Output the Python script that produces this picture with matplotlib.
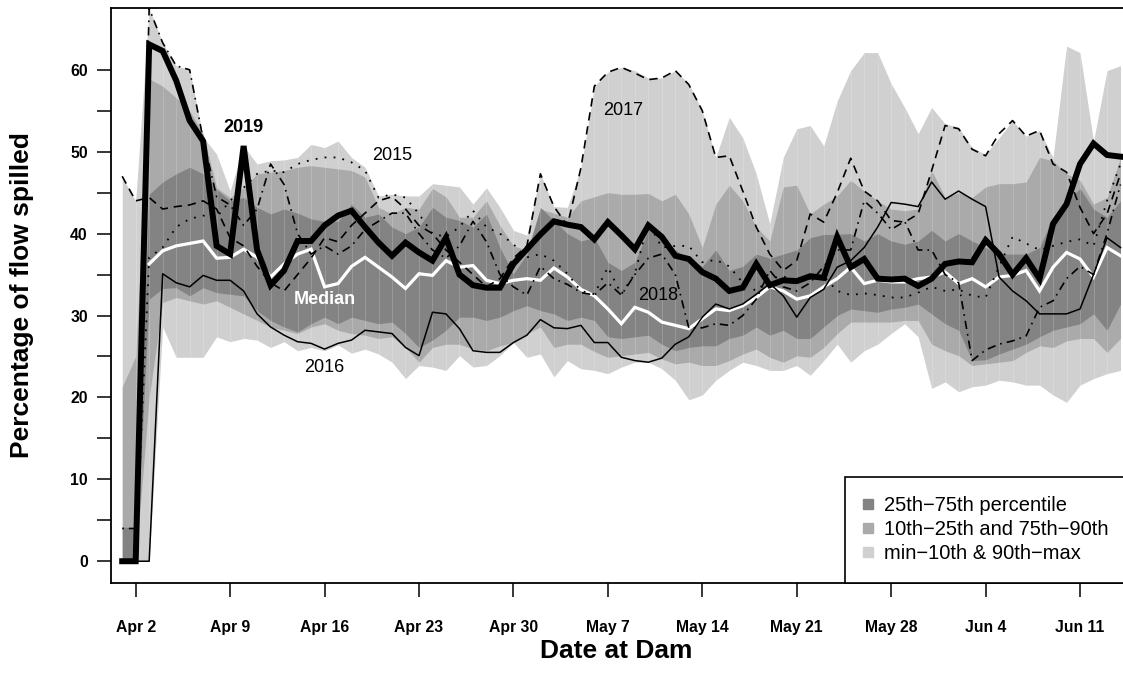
import numpy as np
import matplotlib
matplotlib.use("Agg")
import matplotlib.pyplot as plt
from matplotlib.lines import Line2D

plt.rcParams['font.family'] = ['Liberation Sans', 'DejaVu Sans']

# Daily dates at the dam, Apr 1 - Jun 14
dates = np.arange('2019-04-01', '2019-06-15', dtype='datetime64[D]')
day = (dates - dates[0]).astype(int)

tick_labels = ["Apr 2", "Apr 9", "Apr 16", "Apr 23", "Apr 30", "May 7",
               "May 14", "May 21", "May 28", "Jun 4", "Jun 11"]
tick_dates = np.array(['2019-04-02', '2019-04-09', '2019-04-16', '2019-04-23',
                       '2019-04-30', '2019-05-07', '2019-05-14', '2019-05-21',
                       '2019-05-28', '2019-06-04', '2019-06-11'], dtype='datetime64[D]')

# Percentile envelope of historical percentage of flow spilled
q_min = [0, 0, 0, 28.6, 24.9, 24.9, 24.9, 27.4, 26.8, 27.2, 27.0, 26.1, 26.8, 25.7, 26.1,
         25.7, 26.4, 25.4, 25.9, 25.3, 24.3, 22.3, 23.9, 23.7, 23.3, 25.1, 23.7, 23.9, 25.1,
         26.7, 24.9, 25.3, 22.5, 24.5, 23.5, 23.3, 22.9, 23.7, 24.3, 24.3, 23.5, 22.1, 19.7,
         20.3, 22.1, 23.3, 24.3, 23.9, 23.3, 23.3, 23.9, 22.7, 24.5, 26.5, 24.3, 25.7, 26.5,
         27.8, 29.0, 27.4, 21.1, 21.9, 20.7, 21.3, 21.5, 22.1, 21.9, 21.5, 21.5, 20.3, 19.4,
         21.5, 22.3, 22.9, 23.3]
q10 = [0, 0, 20, 31.6, 32.2, 31.8, 31.4, 31.8, 31.0, 30.2, 29.4, 28.6, 28.2, 27.8, 28.6,
       29.0, 28.2, 27.8, 27.6, 27.2, 27.4, 26.1, 24.3, 26.1, 26.5, 26.5, 25.9, 25.7, 26.3,
       26.7, 27.8, 28.6, 26.1, 26.5, 26.5, 25.6, 24.9, 25.1, 25.3, 25.5, 24.7, 24.1, 24.3,
       23.9, 23.9, 24.5, 25.3, 25.9, 24.9, 24.3, 25.1, 24.9, 26.1, 27.8, 29.2, 29.2, 29.2,
       29.2, 29.4, 29.4, 26.5, 25.7, 25.1, 23.9, 24.1, 24.3, 24.5, 25.5, 26.3, 26.1, 26.9,
       27.2, 27.2, 25.5, 27.2]
q25 = [0, 0, 32, 33.3, 33.4, 32.4, 33.4, 32.8, 32.6, 32.4, 30.6, 29.4, 28.6, 28.0, 29.0,
       29.8, 29.0, 29.8, 29.4, 29.0, 29.2, 27.8, 26.1, 27.0, 28.2, 29.8, 29.8, 29.4, 29.8,
       30.6, 31.2, 30.6, 30.2, 29.4, 29.8, 29.4, 27.4, 27.2, 27.4, 27.6, 26.5, 25.7, 26.1,
       26.3, 26.3, 27.2, 27.6, 28.6, 27.6, 28.2, 27.2, 27.2, 28.6, 30.0, 30.8, 30.6, 30.4,
       30.8, 31.0, 31.4, 30.2, 29.0, 28.2, 24.5, 24.6, 25.3, 25.9, 26.5, 27.4, 28.2, 28.6,
       29.0, 30.2, 28.2, 31.4]
q75 = [4.2, 4.0, 44.8, 46.3, 47.3, 48.1, 47.3, 45.4, 44.0, 44.4, 43.2, 42.4, 43.0, 42.5, 41.8,
       41.5, 41.5, 43.6, 42.0, 42.4, 40.8, 40.0, 40.8, 43.2, 42.0, 41.6, 40.8, 42.4, 38.3,
       35.1, 37.5, 43.2, 41.6, 40.0, 39.1, 39.5, 36.5, 35.5, 36.5, 40.5, 39.5, 38.0, 37.0,
       36.0, 38.0, 35.5, 36.0, 37.5, 37.0, 37.5, 38.0, 39.5, 39.9, 39.9, 40.0, 39.1, 40.0,
       39.1, 38.7, 39.1, 40.4, 39.1, 40.0, 39.1, 38.3, 37.5, 37.5, 37.5, 38.3, 42.0, 44.0,
       45.5, 43.0, 42.0, 44.0]
q90 = [21.3, 25.0, 58.9, 58.0, 56.6, 55.0, 52.2, 45.6, 44.4, 45.6, 47.3, 47.5, 47.7, 48.1, 48.3,
       48.1, 47.9, 47.7, 46.9, 43.2, 42.4, 43.2, 43.0, 45.5, 44.5, 42.0, 42.0, 44.0, 41.0,
       38.5, 38.0, 43.0, 42.5, 42.0, 44.0, 44.5, 45.0, 44.8, 44.8, 44.9, 44.0, 44.8, 42.4,
       38.3, 43.6, 45.9, 44.0, 40.8, 39.1, 45.7, 45.9, 42.4, 43.6, 44.6, 46.5, 45.2, 44.0,
       43.0, 42.8, 43.0, 47.7, 44.4, 45.0, 44.4, 45.7, 46.1, 46.1, 46.3, 49.3, 48.9, 47.3,
       46.5, 43.6, 44.4, 49.3]
q_max = [46.9, 44.0, 67.5, 63.3, 60.5, 60.0, 51.8, 49.7, 45.2, 50.7, 48.5, 48.9, 49.0, 49.3, 50.9,
         50.5, 51.3, 49.3, 48.1, 44.6, 44.8, 44.6, 44.6, 46.1, 45.9, 45.7, 43.6, 45.6, 43.2,
         40.4, 39.8, 47.3, 43.3, 43.2, 48.0, 58.0, 59.7, 60.3, 59.9, 59.0, 59.0, 59.9, 58.3,
         55.0, 49.3, 54.2, 51.7, 47.3, 41.2, 49.3, 52.8, 53.2, 50.7, 56.2, 59.9, 62.1, 62.1,
         58.3, 55.4, 52.2, 55.4, 53.4, 53.0, 50.5, 49.7, 51.7, 53.8, 51.9, 52.6, 49.3, 62.9,
         62.1, 51.3, 59.9, 60.5]
median = [np.nan, np.nan, 36.3, 37.9, 38.5, 38.8, 39.1, 37.0, 37.1, 38.1, 37.1, 34.7, 36.3, 37.5,
          38.1, 33.5, 33.9, 36.0, 37.1, 35.9, 34.7, 33.3, 35.1, 34.9, 36.7, 35.9, 36.1, 34.3,
          33.9, 34.3, 34.5, 34.3, 35.8, 34.7, 33.2, 32.4, 30.8, 29.0, 31.0, 30.4, 29.2, 28.8,
          28.4, 29.6, 30.8, 30.6, 31.2, 32.2, 33.5, 33.0, 32.0, 32.4, 33.5, 34.5, 35.9, 33.9,
          34.3, 34.1, 34.1, 34.5, 34.7, 35.3, 33.9, 34.5, 33.5, 34.7, 34.9, 35.5, 33.0, 35.9,
          37.7, 36.9, 34.7, 38.3, 37.3]

# Individual years
y2015 = [0, 0, 37.1, 38.3, 40.8, 41.8, 42.2, 42.0, 44.0, 45.6, 47.3, 47.7, 47.5, 48.5, 49.0,
         49.3, 49.3, 48.7, 47.7, 44.4, 44.8, 44.4, 42.4, 40.0, 39.6, 40.8, 42.8, 40.8, 40.0,
         38.7, 37.1, 37.5, 36.7, 35.1, 33.0, 32.6, 35.9, 32.6, 35.1, 41.4, 38.3, 38.5, 38.5,
         36.5, 36.8, 36.0, 34.0, 33.0, 34.5, 34.8, 34.0, 34.5, 34.8, 33.0, 32.5, 32.7, 32.5,
         32.2, 32.2, 32.8, 33.5, 33.0, 33.2, 32.4, 32.2, 36.0, 39.6, 38.8, 38.0, 38.5, 39.0,
         39.3, 38.5, 44.0, 48.5]
y2016 = [0, 0, 0, 35.1, 34.0, 33.5, 34.9, 34.3, 34.3, 33.0, 30.2, 28.6, 27.6, 26.8, 26.6,
         25.9, 26.6, 27.0, 28.2, 28.0, 27.8, 26.1, 25.1, 30.4, 30.2, 28.4, 25.7, 25.5, 25.5,
         26.7, 27.6, 29.5, 28.5, 28.4, 28.8, 26.7, 26.7, 24.9, 24.5, 24.3, 24.8, 26.5, 27.4,
         29.8, 31.4, 30.8, 31.4, 32.6, 33.9, 32.4, 29.8, 32.2, 33.2, 35.9, 36.7, 38.3, 40.8,
         43.8, 43.6, 43.3, 46.3, 44.2, 45.2, 44.2, 43.3, 34.7, 33.0, 31.8, 30.2, 30.2, 30.2,
         30.8, 35.0, 39.5, 38.3]
y2017 = [47.0, 44.0, 44.4, 43.0, 43.3, 43.5, 44.0, 43.0, 39.5, 38.5, 36.0, 34.0, 33.0, 35.0, 37.0,
         39.5, 39.0, 41.0, 42.5, 44.0, 44.5, 43.0, 41.0, 40.0, 38.0, 36.5, 35.0, 33.5, 34.5,
         37.0, 38.5, 47.3, 43.3, 41.0, 48.0, 58.0, 59.7, 60.3, 59.6, 58.8, 59.0, 59.9, 58.2,
         55.0, 49.3, 49.5, 45.2, 40.8, 37.5, 35.5, 36.7, 42.4, 41.4, 45.0, 49.2, 45.2, 44.0,
         41.6, 41.4, 42.4, 47.7, 53.2, 52.8, 50.3, 49.5, 52.2, 53.8, 51.9, 52.6, 48.5, 47.5,
         43.2, 40.0, 42.4, 47.3]
y2018 = [4.0, 4.0, 67.5, 63.3, 60.5, 60.0, 51.5, 44.5, 43.5, 41.0, 43.0, 48.5, 46.0, 40.0, 37.5,
         38.5, 37.5, 38.5, 40.5, 41.5, 42.5, 42.5, 40.0, 38.0, 37.0, 38.5, 41.5, 39.0, 35.0,
         33.5, 32.5, 36.0, 34.5, 33.8, 32.8, 32.5, 34.0, 32.5, 35.0, 37.0, 37.5, 35.0, 28.5,
         28.5, 29.0, 28.8, 30.0, 32.0, 35.5, 33.5, 33.0, 34.0, 36.0, 38.0, 38.0, 44.0, 42.5,
         40.5, 41.5, 38.0, 38.0, 35.0, 34.0, 24.5, 25.8, 26.5, 26.9, 27.5, 31.0, 31.8, 34.5,
         36.0, 35.0, 40.0, 46.0]
y2019 = [0, 0, 63.1, 62.3, 58.7, 53.8, 51.3, 38.5, 37.5, 50.7, 38.0, 33.7, 35.5, 39.1, 39.1,
         41.0, 42.2, 42.8, 40.8, 38.9, 37.3, 38.9, 37.7, 36.7, 39.5, 35.0, 33.7, 33.4, 33.4,
         36.3, 38.1, 39.9, 41.5, 41.1, 40.8, 39.3, 41.4, 39.8, 38.1, 41.0, 39.6, 37.3, 36.9,
         35.3, 34.5, 33.0, 33.4, 36.3, 33.7, 34.3, 34.2, 34.8, 34.6, 39.6, 35.9, 36.9, 34.5,
         34.4, 34.5, 33.6, 34.5, 36.3, 36.6, 36.5, 39.2, 37.5, 35.0, 37.0, 34.5, 41.2, 43.6,
         48.5, 51.0, 49.6, 49.4]

light, mid, dark = '#d0d0d0', '#aaaaaa', '#838383'

fig = plt.figure(figsize=(11.23, 6.81), dpi=100)
ax = fig.add_axes([0.0992, 0.1446, 0.9017, 0.8443])

# Envelope bands
ax.fill_between(day, q_min, q_max, color=light, lw=0)
ax.fill_between(day, q10, q90, color=mid, lw=0)
ax.fill_between(day, q25, q75, color=dark, lw=0)
ax.vlines(day, q_min, q_max, colors='white', alpha=0.18, lw=0.7)

# Median and individual years
ax.plot(day, median, color='white', lw=2.3, solid_joinstyle='miter')
ax.plot(day, y2015, color='black', lw=1.3, ls=(0, (1, 4)))
ax.plot(day, y2016, color='black', lw=1.1)
ax.plot(day, y2017, color='black', lw=1.2, ls=(0, (5, 3.5)))
ax.plot(day, y2018, color='black', lw=1.2, ls=(0, (1, 3, 5, 3)))
ax.plot(day, y2019, color='black', lw=4.3, solid_joinstyle='miter')

# Line labels
ax.text(9.0, 53.0, "2019", fontsize=13, fontweight='bold', ha='center', va='center')
ax.text(20.0, 49.5, "2015", fontsize=13, ha='center', va='center')
ax.text(37.1, 55.0, "2017", fontsize=13, ha='center', va='center')
ax.text(39.7, 32.4, "2018", fontsize=13, ha='center', va='center')
ax.text(15.0, 23.7, "2016", fontsize=13, ha='center', va='center')
ax.text(15.0, 32.0, "Median", fontsize=13, fontweight='bold', color='white',
        ha='center', va='center')

# Axes
ax.set_xlim(-0.80, 74.26)
ax.set_ylim(-2.6, 67.6)
ax.set_xticks((tick_dates - dates[0]).astype(int))
ax.set_xticklabels(tick_labels, fontsize=11.3, fontweight='bold')
ax.set_yticks(np.arange(0, 61, 10))
ax.set_yticklabels([str(v) for v in range(0, 61, 10)], fontsize=11.3, fontweight='bold')
ax.set_yticks(np.arange(5, 60, 10), minor=True)
ax.tick_params(axis='x', length=10, width=1.1, pad=17)
ax.tick_params(axis='y', which='both', length=10, width=1.1, pad=7)
for s in ax.spines.values():
    s.set_linewidth(1.3)

fig.text(0.549, 0.044, "Date at Dam", fontsize=19, fontweight='bold', ha='center', va='center')
fig.text(0.0196, 0.567, "Percentage of flow spilled", fontsize=19, fontweight='bold',
         rotation=90, ha='center', va='center')

handles = [Line2D([], [], marker='s', ms=7.5, ls='none', color=c, mec=c)
           for c in (dark, mid, light)]
leg = ax.legend(handles, ["25th\u221275th percentile", "10th\u221225th and 75th\u221290th",
                          "min\u221210th & 90th\u2212max"],
                loc='lower left', bbox_to_anchor=(0.7245, 0.0), fontsize=14.5,
                frameon=True, fancybox=False, edgecolor='black', framealpha=1,
                borderpad=0.95, handlelength=0.4, handletextpad=0.6, labelspacing=0.25,
                borderaxespad=0.0)
leg.get_frame().set_linewidth(1.2)

fig.savefig("out.png", dpi=100)
